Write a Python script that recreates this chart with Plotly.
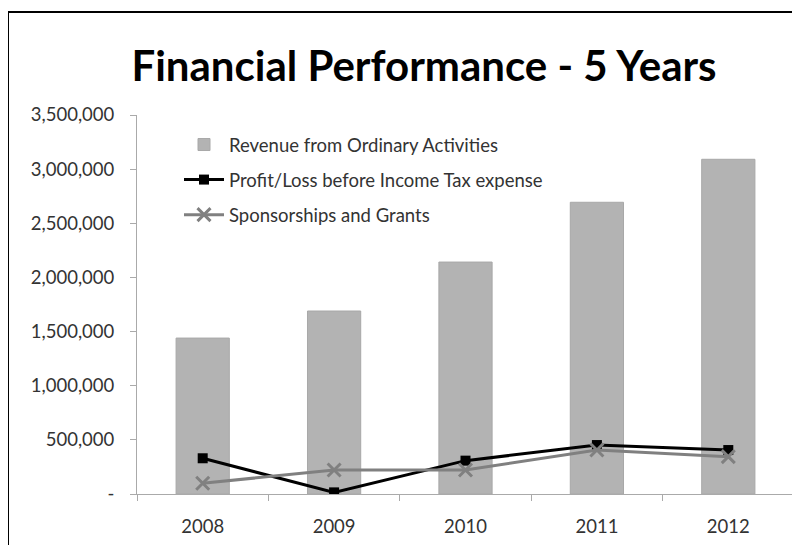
import plotly.graph_objects as go

years = ["2008", "2009", "2010", "2011", "2012"]
revenue = [1440000, 1690000, 2142000, 2694000, 3091000]
profit = [330000, 15000, 308000, 452000, 406000]
sponsorship = [99000, 222000, 222000, 406000, 345000]

y_tickvals = [0, 500000, 1000000, 1500000, 2000000, 2500000, 3000000, 3500000]
y_ticktext = ["-", "500,000", "1,000,000", "1,500,000", "2,000,000", "2,500,000", "3,000,000", "3,500,000"]

FONT = "Lato"
OFF = 8  # page body margin
W, H = 788, 553 - 2 * OFF
L = 137 - OFF
T = 115 - OFF
R = W - (794 - OFF)
B = H - (494 - OFF)
pw = W - L - R
ph = H - T - B

def px_x(page_x):
    return (page_x - OFF - L) / pw

def px_y(page_y):
    return (H - B - (page_y - OFF)) / ph

fig = go.Figure()
fig.add_trace(go.Bar(
    x=years, y=revenue, name="Revenue from Ordinary Activities",
    marker=dict(color="#b3b3b3", line=dict(color="#a8a8a8", width=1)),
    width=0.405, legendgroup="a",
))
fig.add_trace(go.Scatter(
    x=years, y=profit, name="Profit/Loss before Income Tax expense",
    mode="lines+markers",
    line=dict(color="#000000", width=3),
    marker=dict(symbol="square", size=10, color="#000000"),
    legendgroup="b",
))
fig.add_trace(go.Scatter(
    x=years, y=sponsorship, name="Sponsorships and Grants",
    mode="lines+markers",
    line=dict(color="#808080", width=3),
    marker=dict(symbol="x-thin-open", size=13, color="#808080", line=dict(color="#808080", width=3)),
    legendgroup="c",
))

fx0, fx1 = px_x(8), px_x(830)
fy0, fy1 = px_y(600), px_y(12)
frame_path = f"M {fx0},{fy0} L {fx0},{fy1} L {fx1},{fy1}"

fig.update_layout(
    width=W, height=H,
    margin=dict(l=L, r=R, t=T, b=B, autoexpand=False),
    paper_bgcolor="white", plot_bgcolor="white",
    font=dict(family=FONT, size=18.5, color="#333333"),
    title=dict(
        text="<b>Financial Performance - 5 Years</b>",
        font=dict(family=FONT, size=42, color="#000000"),
        x=(424 - OFF) / W, xref="container", xanchor="center",
        y=1 - (66 - OFF) / H, yref="container", yanchor="middle",
    ),
    showlegend=True,
    legend=dict(
        x=px_x(179), y=px_y(126), xanchor="left", yanchor="top",
        bgcolor="rgba(0,0,0,0)", font=dict(family=FONT, size=18.5, color="#333333"),
        itemwidth=40, tracegroupgap=8, traceorder="grouped",
    ),
    xaxis=dict(
        type="category", showline=True, linecolor="#aaaaaa", linewidth=1,
        ticks="outside", tickson="boundaries", ticklen=6, tickcolor="#aaaaaa",
        showgrid=False, tickfont=dict(family=FONT, size=18.5, color="#333333"),
        range=[-0.5, 4.5], ticklabelstandoff=16, automargin=False,
    ),
    yaxis=dict(
        range=[0, 3500000], tickvals=y_tickvals, ticktext=y_ticktext,
        showline=True, linecolor="#aaaaaa", linewidth=1,
        ticks="outside", ticklen=6, tickcolor="#aaaaaa",
        showgrid=False, zeroline=False, ticklabelstandoff=12, automargin=False,
        tickfont=dict(family=FONT, size=18.5, color="#333333"),
    ),
    shapes=[dict(
        type="path", xref="paper", yref="paper", path=frame_path,
        line=dict(color="#000000", width=2), layer="above",
    )],
)

fig.write_html("out.html")
